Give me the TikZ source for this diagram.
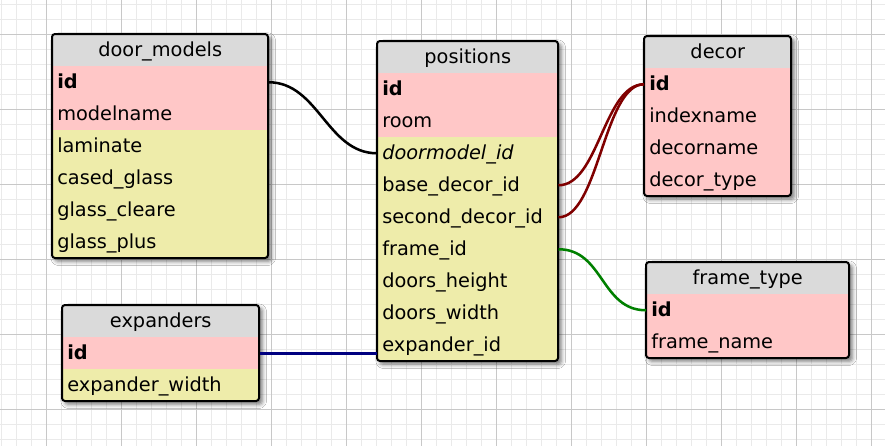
\documentclass[tikz,border=0pt]{standalone}
\usepackage{fontspec}
\setmainfont{DejaVu Sans}
\usetikzlibrary{shadows.blur}
\definecolor{hdc}{RGB}{218,218,218}
\definecolor{pkc}{RGB}{255,199,199}
\definecolor{fkc}{RGB}{238,236,170}
\definecolor{gminor}{RGB}{234,234,234}
\definecolor{gmajor}{RGB}{200,200,200}
\definecolor{relred}{RGB}{128,0,0}
\definecolor{relgreen}{RGB}{0,128,0}
\definecolor{relnavy}{RGB}{0,0,128}
\newcommand{\fnt}{\fontsize{14.5}{17}\selectfont}
\tikzset{
  cell/.style={anchor=north west, inner xsep=3.75pt, inner ysep=0pt, minimum height=24pt,
    text height=13pt, text depth=3pt, align=left, font=\fnt},
  pk/.style={cell, fill=pkc},
  fk/.style={cell, fill=fkc},
  hd/.style={anchor=north west, inner sep=0pt, minimum height=24pt, text height=13pt,
    text depth=3pt, align=center, fill=hdc, font=\fnt},
  tblshadow/.style={fill=white, rounded corners=2.25pt, blur shadow={shadow xshift=2.4pt,
    shadow yshift=-2.4pt, shadow blur radius=3.2pt, shadow opacity=55}},
  tblborder/.style={draw=black, line width=1.5pt, rounded corners=2.25pt},
  rel/.style={line width=1.9pt},
}
\begin{document}
\begin{tikzpicture}[x=0.75pt, y=-0.75pt]
\useasboundingbox (0,0) rectangle (885,446);
\fill[white] (0,0) rectangle (885,446);
% grid
\foreach \gx in {1.7,16.7,...,885} \draw[gminor, line width=0.75pt] (\gx,0) -- (\gx,446);
\foreach \gy in {4,19,...,446} \draw[gminor, line width=0.75pt] (0,\gy) -- (885,\gy);
\foreach \gx in {46.7,121.7,...,885} \draw[gmajor, line width=0.75pt] (\gx,0) -- (\gx,446);
\foreach \gy in {34,109,...,446} \draw[gmajor, line width=0.75pt] (0,\gy) -- (885,\gy);

% ---------- door_models ----------
\fill[tblshadow] (52,34) rectangle (268,258);
\begin{scope}
\clip[rounded corners=2.25pt] (52,34) rectangle (268,258);
\node[hd, text width=162pt] (dm) at (52,34) {door\_models};
\node[pk, text width=154.5pt] (dm-id) at (52,66) {\textbf{id}};
\node[pk, text width=154.5pt] (dm-name) at (52,98) {modelname};
\node[fk, text width=154.5pt] (dm-lam) at (52,130) {laminate};
\node[fk, text width=154.5pt] (dm-cg) at (52,162) {cased\_glass};
\node[fk, text width=154.5pt] (dm-gc) at (52,194) {glass\_cleare};
\node[fk, text width=154.5pt] (dm-gp) at (52,226) {glass\_plus};
\end{scope}
\draw[tblborder] (52,34) rectangle (268,258);

% ---------- positions ----------
\fill[tblshadow] (377,41) rectangle (558,361);
\begin{scope}
\clip[rounded corners=2.25pt] (377,41) rectangle (558,361);
\node[hd, text width=135.75pt] (pos) at (377,41) {positions};
\node[pk, text width=128.25pt] (pos-id) at (377,73) {\textbf{id}};
\node[pk, text width=128.25pt] (pos-room) at (377,105) {room};
\node[fk, text width=128.25pt] (pos-dm) at (377,137) {\textit{doormodel\_id}};
\node[fk, text width=128.25pt] (pos-base) at (377,169) {base\_decor\_id};
\node[fk, text width=128.25pt] (pos-sec) at (377,201) {second\_decor\_id};
\node[fk, text width=128.25pt] (pos-frame) at (377,233) {frame\_id};
\node[fk, text width=128.25pt] (pos-dh) at (377,265) {doors\_height};
\node[fk, text width=128.25pt] (pos-dw) at (377,297) {doors\_width};
\node[fk, text width=128.25pt] (pos-exp) at (377,329) {expander\_id};
\end{scope}
\draw[tblborder] (377,41) rectangle (558,361);

% ---------- decor ----------
\fill[tblshadow] (644,36) rectangle (791,196);
\begin{scope}
\clip[rounded corners=2.25pt] (644,36) rectangle (791,196);
\node[hd, text width=110.25pt] (dec) at (644,36) {decor};
\node[pk, text width=102.75pt] (dec-id) at (644,68) {\textbf{id}};
\node[pk, text width=102.75pt] (dec-idx) at (644,100) {indexname};
\node[pk, text width=102.75pt] (dec-name) at (644,132) {decorname};
\node[pk, text width=102.75pt] (dec-type) at (644,164) {decor\_type};
\end{scope}
\draw[tblborder] (644,36) rectangle (791,196);

% ---------- frame_type ----------
\fill[tblshadow] (646,262) rectangle (849,358);
\begin{scope}
\clip[rounded corners=2.25pt] (646,262) rectangle (849,358);
\node[hd, text width=152.25pt] (ft) at (646,262) {frame\_type};
\node[pk, text width=144.75pt] (ft-id) at (646,294) {\textbf{id}};
\node[pk, text width=144.75pt] (ft-name) at (646,326) {frame\_name};
\end{scope}
\draw[tblborder] (646,262) rectangle (849,358);

% ---------- expanders ----------
\fill[tblshadow] (62,305) rectangle (259,401);
\begin{scope}
\clip[rounded corners=2.25pt] (62,305) rectangle (259,401);
\node[hd, text width=147.75pt] (ex) at (62,305) {expanders};
\node[pk, text width=140.25pt] (ex-id) at (62,337) {\textbf{id}};
\node[fk, text width=140.25pt] (ex-w) at (62,369) {expander\_width};
\end{scope}
\draw[tblborder] (62,305) rectangle (259,401);

% ---------- relations ----------
\draw[rel, black] (dm-id.east) .. controls +(50,0) and +(-50,0) .. (pos-dm.west);
\draw[rel, relred] (pos-base.east) .. controls +(40,0) and +(-40,0) .. (dec-id.west);
\draw[rel, relred] (pos-sec.east) .. controls +(40,0) and +(-40,0) .. (dec-id.west);
\draw[rel, relgreen] (pos-frame.east) .. controls +(45,0) and +(-45,0) .. (ft-id.west);
\draw[rel, relnavy] (ex-id.east) -- (ex-id.east -| pos-exp.west);
\end{tikzpicture}
\end{document}
